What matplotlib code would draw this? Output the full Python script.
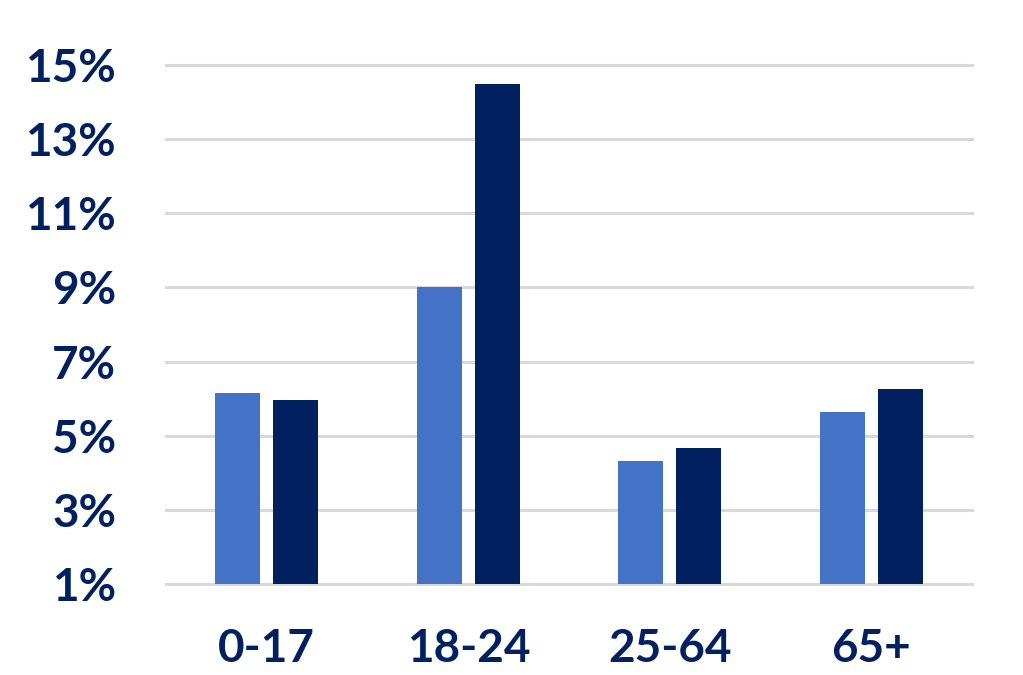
import numpy as np
import matplotlib
matplotlib.use('Agg')
import matplotlib.pyplot as plt

# age groups and the two series (percent)
groups = ['0-17', '18-24', '25-64', '65+']
series_a = [6.15, 9.0, 4.32, 5.63]
series_b = [5.97, 14.5, 4.68, 6.25]
yticks = [1, 3, 5, 7, 9, 11, 13, 15]

navy = '#002060'
light = '#4472C4'

plt.rcParams['font.family'] = ['Lato', 'DejaVu Sans']

fig = plt.figure(figsize=(10.23, 6.75), dpi=100)
ax = fig.add_axes([0.1623, 0.1348, 0.788, 0.7689])

x = np.arange(len(groups))
w = 0.223
off = 0.144
ax.bar(x - off, np.array(series_a) - 1, w, bottom=1, color=light, zorder=3)
ax.bar(x + off, np.array(series_b) - 1, w, bottom=1, color=navy, zorder=3)

ax.set_xlim(-0.5, 3.5)
ax.set_ylim(1, 15)
ax.set_yticks(yticks)
ax.set_yticklabels([f'{t}%' for t in yticks])
ax.set_xticks(x)
ax.set_xticklabels(groups)

ax.grid(axis='y', color='#D9D9D9', linewidth=2.2, zorder=0)
for gl in ax.get_ygridlines():
    gl.set_clip_on(False)
ax.set_axisbelow(True)
for s in ax.spines.values():
    s.set_visible(False)
ax.tick_params(axis='both', length=0, labelcolor=navy, labelsize=33)
ax.tick_params(axis='y', pad=36)
ax.tick_params(axis='x', pad=32)
for lbl in ax.get_xticklabels() + ax.get_yticklabels():
    lbl.set_fontweight('bold')

fig.savefig('out.png', dpi=100)
